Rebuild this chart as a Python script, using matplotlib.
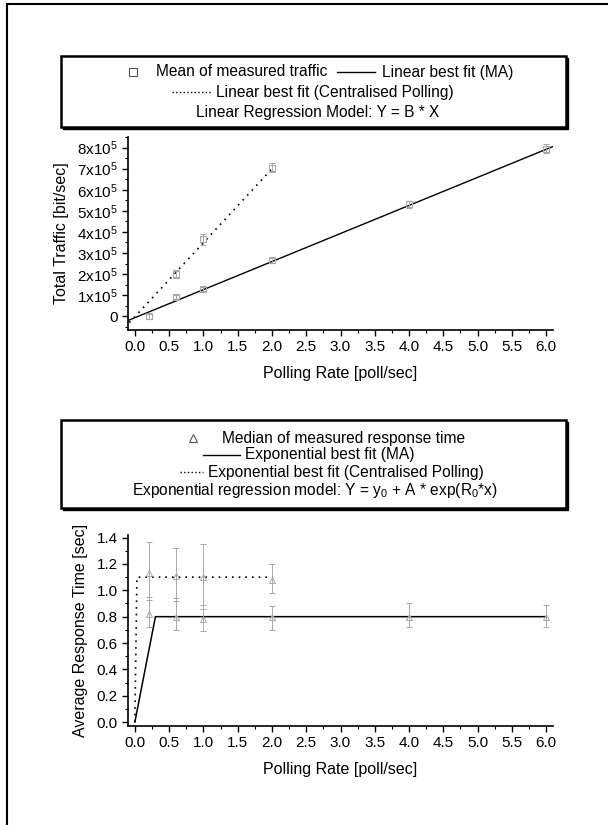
import matplotlib.pyplot as plt
from matplotlib.lines import Line2D
from matplotlib.patches import Rectangle
from matplotlib.ticker import MultipleLocator, FuncFormatter

plt.rcParams['font.family'] = ['Liberation Sans', 'DejaVu Sans']
plt.rcParams['mathtext.fontset'] = 'custom'
plt.rcParams['mathtext.rm'] = 'Liberation Sans'
plt.rcParams['mathtext.it'] = 'Liberation Sans'

GREY = '#a8a8a8'

# --- top chart: total traffic (units of 1e5 bit/sec) ---
rate_ma = [0.2, 0.6, 1.0, 2.0, 4.0, 6.0]
traffic_ma = [0.0, 0.9, 1.3, 2.65, 5.3, 7.95]
traffic_ma_err = [0.12, 0.1, 0.1, 0.1, 0.15, 0.2]
rate_cp = [0.6, 1.0, 2.0]
traffic_cp = [2.0, 3.65, 7.05]
traffic_cp_err = [0.2, 0.25, 0.2]
fit_ma_x = [-0.1, 6.1]
fit_ma_y = [-0.2, 8.05]
fit_cp_x = [-0.08, 2.03]
fit_cp_y = [-0.3, 7.1]

# --- bottom chart: response time [sec] ---
rate_cp_resp = [0.2, 0.6, 1.0, 2.0]
resp_ma = [0.82, 0.80, 0.78, 0.80, 0.80, 0.80]
resp_ma_lo = [0.72, 0.70, 0.69, 0.70, 0.72, 0.72]
resp_ma_hi = [0.95, 0.94, 0.89, 0.88, 0.90, 0.89]
resp_cp = [1.13, 1.11, 1.10, 1.08]
resp_cp_lo = [0.93, 0.92, 0.86, 0.98]
resp_cp_hi = [1.37, 1.32, 1.35, 1.20]
exp_ma_x = [0.0, 0.3, 6.0]
exp_ma_y = [0.0, 0.8, 0.8]
exp_cp_x = [0.0, 0.03, 2.0]
exp_cp_y = [0.0, 1.1, 1.1]

fig = plt.figure(figsize=(6.08, 8.25), dpi=100)

# page frame
fig.add_artist(Rectangle((7 / 608, -0.1), 1.2, 1.1 - 5 / 825 + 0.001,
                         transform=fig.transFigure, fill=False, lw=1.5,
                         ec='black', clip_on=False))


def legend_box(x0, y0, x1, y1):
    # box in pixel coords (top-left origin), with a drop shadow
    W, H = 608, 825
    fig.add_artist(Rectangle((x0 / W + 0.004, 1 - y1 / H - 0.003), (x1 - x0) / W, (y1 - y0) / H,
                             transform=fig.transFigure, fc='black', ec='black', lw=1))
    fig.add_artist(Rectangle((x0 / W, 1 - y1 / H), (x1 - x0) / W, (y1 - y0) / H,
                             transform=fig.transFigure, fc='white', ec='black', lw=1.8))


def ptxt(x, y, s, ha='left'):
    fig.text(x / 608, 1 - y / 825, s, ha=ha, va='center', fontsize=11.2)


def pline(x0, x1, y, ls):
    fig.add_artist(Line2D([x0 / 608, x1 / 608], [1 - y / 825, 1 - y / 825],
                          transform=fig.transFigure, color='black', lw=1, ls=ls))


def pmark(x, y, m):
    fig.add_artist(Line2D([x / 608], [1 - y / 825], transform=fig.transFigure,
                          marker=m, ms=6, mfc='none', mec='#555555', mew=0.8, ls='none'))


def style_axes(ax):
    for s in ['top', 'right']:
        ax.spines[s].set_visible(False)
    ax.spines['left'].set_linewidth(1.2)
    ax.spines['bottom'].set_linewidth(1.2)
    ax.tick_params(which='major', direction='out', length=4, width=1, labelsize=11)
    ax.tick_params(which='minor', direction='out', length=2, width=0.8)
    ax.xaxis.set_major_locator(MultipleLocator(0.5))
    ax.xaxis.set_minor_locator(MultipleLocator(0.25))
    ax.xaxis.set_major_formatter(FuncFormatter(lambda v, p: f'{v:.1f}'))
    ax.set_xlim(-0.1, 6.1)
    ax.set_xlabel('Polling Rate [poll/sec]', fontsize=11.5, labelpad=8)


# top legend
legend_box(61, 56, 566, 127)
pmark(133, 72, 's')
ptxt(156, 72, 'Mean of measured traffic')
pline(337, 375, 72, '-')
ptxt(382, 72, 'Linear best fit (MA)')
pline(172, 211, 92, ':')
ptxt(216, 92, 'Linear best fit (Centralised Polling)')
ptxt(318, 112, 'Linear Regression Model: Y = B * X', ha='center')

ax1 = fig.add_axes([128 / 608, 1 - 330 / 825, 425 / 608, 193 / 825])
style_axes(ax1)
ax1.plot(fit_ma_x, fit_ma_y, color='black', lw=1)
ax1.plot(fit_cp_x, fit_cp_y, color='black', lw=1.2, ls=(0, (1, 3)))
ax1.errorbar(rate_ma, traffic_ma, yerr=traffic_ma_err, fmt='s', ms=5, mfc='none',
             mec=GREY, ecolor=GREY, elinewidth=0.7, capsize=2, mew=0.8)
ax1.errorbar(rate_cp, traffic_cp, yerr=traffic_cp_err, fmt='s', ms=5, mfc='none',
             mec=GREY, ecolor=GREY, elinewidth=0.7, capsize=2, mew=0.8)
ax1.set_ylim(-0.65, 8.5)
ax1.yaxis.set_major_locator(MultipleLocator(1))
ax1.yaxis.set_minor_locator(MultipleLocator(0.5))
ax1.yaxis.set_major_formatter(FuncFormatter(
    lambda v, p: '0' if abs(v) < 1e-9 else r'$\mathregular{%dx10^5}$' % round(v)))
ax1.set_ylabel('Total Traffic [bit/sec]', fontsize=11.5, labelpad=6)

# bottom legend
legend_box(61, 420, 566, 508)
pmark(193, 438, '^')
ptxt(222, 438, 'Median of measured response time')
pline(203, 240, 455, '-')
ptxt(245, 455, 'Exponential best fit (MA)')
pline(180, 203, 472, ':')
ptxt(208, 472, 'Exponential best fit (Centralised Polling)')
ptxt(315, 490, r'Exponential regression model: Y = y$_\mathregular{0}$ + A * exp(R$_\mathregular{0}$*x)', ha='center')

ax2 = fig.add_axes([128 / 608, 1 - 726 / 825, 425 / 608, 191 / 825])
style_axes(ax2)
ax2.plot(exp_ma_x, exp_ma_y, color='black', lw=1.1)
ax2.plot(exp_cp_x, exp_cp_y, color='black', lw=1.2, ls=(0, (1, 3)))
ma_err = [[m - l for m, l in zip(resp_ma, resp_ma_lo)], [h - m for m, h in zip(resp_ma, resp_ma_hi)]]
ax2.errorbar(rate_ma, resp_ma, yerr=ma_err, fmt='^', ms=4, mfc='none', mec=GREY,
             ecolor=GREY, elinewidth=0.7, capsize=2, mew=0.7)
cp_err = [[m - l for m, l in zip(resp_cp, resp_cp_lo)], [h - m for m, h in zip(resp_cp, resp_cp_hi)]]
ax2.errorbar(rate_cp_resp, resp_cp, yerr=cp_err, fmt='^', ms=4, mfc='none', mec=GREY,
             ecolor=GREY, elinewidth=0.7, capsize=2, mew=0.7)
ax2.set_ylim(-0.03, 1.42)
ax2.yaxis.set_major_locator(MultipleLocator(0.2))
ax2.yaxis.set_minor_locator(MultipleLocator(0.1))
ax2.yaxis.set_major_formatter(FuncFormatter(lambda v, p: f'{v:.1f}'))
ax2.set_ylabel('Average Response Time [sec]', fontsize=11.5, labelpad=6)

fig.savefig('out.png', dpi=100)
